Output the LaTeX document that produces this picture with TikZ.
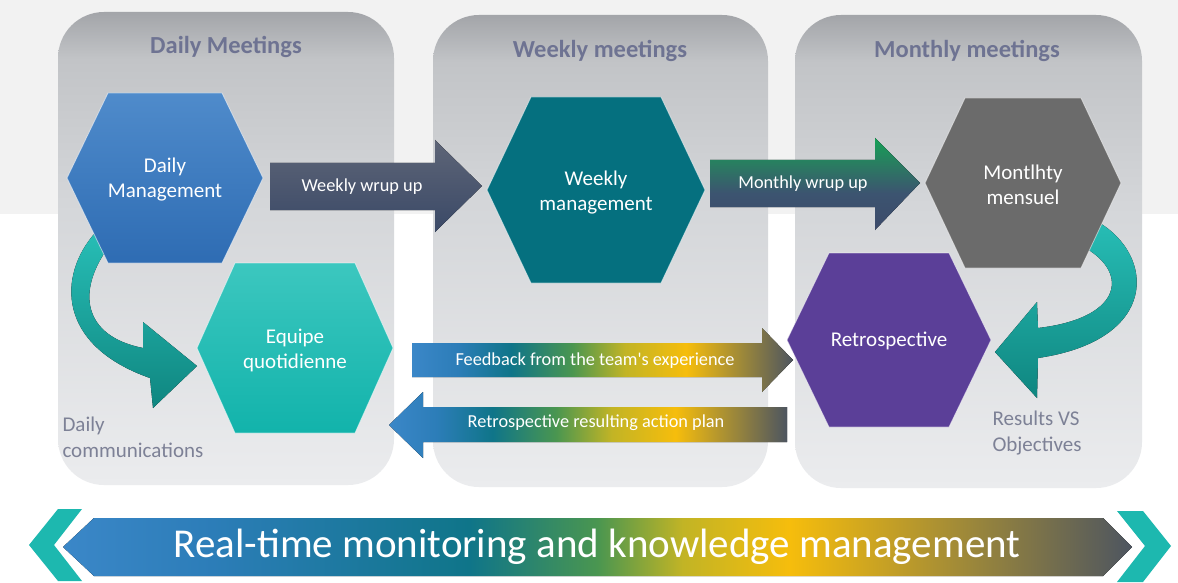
\documentclass[tikz,border=0pt]{standalone}
\usepackage{fontspec}
\newfontfamily\carlito{Carlito}
\setmainfont{Carlito}
\usetikzlibrary{calc}

% palette
\definecolor{bandgray}{HTML}{F2F2F2}
\definecolor{pnltop}{HTML}{A3A5A9}
\definecolor{pnlhi}{HTML}{C2C4C7}
\definecolor{pnlmid}{HTML}{D4D6D9}
\definecolor{pnlbot}{HTML}{EBECEE}
\definecolor{titlecol}{HTML}{6E7392}
\definecolor{labelcol}{HTML}{7D8196}
\definecolor{dmtop}{HTML}{4F8BCB}
\definecolor{dmbot}{HTML}{2E6CB3}
\definecolor{eqtop}{HTML}{3CC7BF}
\definecolor{eqbot}{HTML}{12B3AB}
\definecolor{wmfill}{HTML}{05707F}
\definecolor{mmfill}{HTML}{6B6B6B}
\definecolor{refill}{HTML}{5B3F98}
\definecolor{ribtop}{HTML}{27BDB5}
\definecolor{ribbot}{HTML}{0F8680}
\definecolor{wktop}{HTML}{5E6577}
\definecolor{wkbot}{HTML}{3A4967}
\definecolor{mtgreen}{HTML}{15A056}
\definecolor{mtmid}{HTML}{2B7A62}
\definecolor{mtslate}{HTML}{3C5470}
\definecolor{mtbot}{HTML}{3C4A6A}
\definecolor{gblue}{HTML}{3B87C8}
\definecolor{gblue2}{HTML}{2C7DB8}
\definecolor{gteal}{HTML}{0F7589}
\definecolor{ggreen}{HTML}{4A9650}
\definecolor{gyelgr}{HTML}{C2B425}
\definecolor{gyellow}{HTML}{F6BD0C}
\definecolor{golive}{HTML}{A08A38}
\definecolor{gdark}{HTML}{4D5560}
\definecolor{chevcol}{HTML}{1DB8AF}

% panel background, dark at the top edge and fading downwards
\pgfdeclareverticalshading{panelshade}{100bp}{color(0bp)=(pnlbot); color(25bp)=(pnlbot);
  color(55bp)=(pnlmid); color(70bp)=(pnlhi); color(75bp)=(pnltop); color(100bp)=(pnltop)}
% green-to-slate fill of the monthly arrow
\pgfdeclareverticalshading{monthshade}{100bp}{color(0bp)=(mtbot); color(25bp)=(mtbot);
  color(45bp)=(mtslate); color(60bp)=(mtmid); color(75bp)=(mtgreen); color(100bp)=(mtgreen)}
% blue - teal - yellow - dark band of the feedback arrows
\pgfdeclarehorizontalshading{feedshade}{100bp}{color(0bp)=(gblue); color(25bp)=(gblue);
  color(31bp)=(gblue2); color(38bp)=(gteal); color(46bp)=(ggreen); color(53bp)=(gyelgr);
  color(61bp)=(gyellow); color(68bp)=(golive); color(75bp)=(gdark); color(100bp)=(gdark)}
% same colours spread along the bottom banner
\pgfdeclarehorizontalshading{bannershade}{100bp}{color(0bp)=(gblue); color(25bp)=(gblue);
  color(32bp)=(gblue2); color(44bp)=(gteal); color(50bp)=(ggreen); color(54bp)=(gyelgr);
  color(59bp)=(gyellow); color(67bp)=(golive); color(75bp)=(gdark); color(100bp)=(gdark)}

% hexagon with pointed left/right ends: centre x, centre y, half width, half top edge, half height
\newcommand{\hexshape}[5]{(#1-#3,#2) -- (#1-#4,#2-#5) -- (#1+#4,#2-#5) -- (#1+#3,#2)
  -- (#1+#4,#2+#5) -- (#1-#4,#2+#5) -- cycle}

\tikzset{
  panelbox/.style={rectangle, rounded corners=46pt, shade, shading=panelshade, inner sep=0pt},
  titletext/.style={font=\carlito\bfseries\fontsize{24.5}{28}\selectfont, text=titlecol},
  hexedge/.style={draw=white, draw opacity=0.55, line width=0.8pt},
  hextext/.style={font=\carlito\fontsize{21}{25}\selectfont, text=white, align=center},
  arrowtext/.style={font=\carlito\fontsize{18.3}{22}\selectfont, text=white},
  sidelabel/.style={font=\carlito\fontsize{21}{26}\selectfont, text=labelcol, align=left, anchor=west},
  bannertext/.style={font=\carlito\fontsize{41}{48}\selectfont, text=white},
  ribbon/.style={shade, top color=ribtop, bottom color=ribbot},
}

\begin{document}
\begin{tikzpicture}[x=1pt,y=-1pt]
\useasboundingbox (0,0) rectangle (1178,583);
\fill[white] (0,0) rectangle (1178,583);
\fill[bandgray] (0,0) rectangle (1178,214);

% three meeting columns
\node[panelbox, minimum width=336pt, minimum height=473pt] (p1) at (226,248.5) {};
\node[panelbox, minimum width=335pt, minimum height=472pt] (p2) at (600.5,251) {};
\node[panelbox, minimum width=347pt, minimum height=473pt] (p3) at (968.5,251.5) {};
\node[titletext] (t1) at (226,47) {Daily Meetings};
\node[titletext] (t2) at (600,51) {Weekly meetings};
\node[titletext] (t3) at (967,51) {Monthly meetings};

% curved teal ribbons, tucked under the hexagons they leave
\fill[ribbon] (95,233) .. controls (58,275) and (56,345) .. (150,378) -- (153,408) -- (197,366)
  -- (143,322) -- (143,348) .. controls (82,336) and (76,290) .. (110,245) -- cycle;
\fill[ribbon] (1098,222) .. controls (1155,255) and (1160,340) .. (1038,358) -- (1037,398)
  -- (995,352) -- (1037,302) -- (1038,328) .. controls (1125,318) and (1130,270) .. (1080,245) -- cycle;

% hexagons
\path[hexedge, shade, top color=dmtop, bottom color=dmbot] \hexshape{165}{178}{98}{57}{85};
\path[hexedge, shade, top color=eqtop, bottom color=eqbot] \hexshape{295}{348}{98}{60}{85};
\path[hexedge, fill=wmfill] \hexshape{596}{190}{109}{65}{93};
\path[hexedge, fill=mmfill] \hexshape{1023}{183}{98}{58}{85};
\path[hexedge, fill=refill] \hexshape{889}{340}{102}{60}{87};
\node[hextext] (dm) at (165,180) {Daily\\Management};
\node[hextext] (eq) at (295,350) {Equipe\\quotidienne};
\node[hextext] (wm) at (596,193) {Weekly\\management};
\node[hextext] (mm) at (1023,185) {Montlhty\\mensuel};
\node[hextext] (re) at (889,341) {Retrospective};

% block arrows between the meetings
\fill[shade, top color=wktop, bottom color=wkbot] (270,163) -- (435,163) -- (435,140) -- (482,186)
  -- (435,232) -- (435,210) -- (270,210) -- cycle;
\node[arrowtext] (wk) at (362,187) {Weekly wrup up};
\fill[shade, shading=monthshade] (710,160) -- (875,160) -- (875,138) -- (920,183)
  -- (875,230) -- (875,207) -- (710,207) -- cycle;
\node[arrowtext] (mt) at (803,184) {Monthly wrup up};
\fill[shade, shading=feedshade] (412,343) -- (762,343) -- (762,328) -- (793,360)
  -- (762,392) -- (762,377) -- (412,377) -- cycle;
\node[arrowtext] (fb) at (595,361) {Feedback from the team's experience};
\fill[shade, shading=feedshade] (389,425) -- (423,392) -- (423,407) -- (787,407)
  -- (787,442) -- (423,442) -- (423,458) -- cycle;
\node[arrowtext] (ap) at (596,423) {Retrospective resulting action plan};

% side notes
\node[sidelabel] (dc) at (59,437) {Daily\\communications};
\node[sidelabel] (ro) at (989,433) {Results VS\\Objectives};

% bottom banner with its two chevrons
\fill[chevcol] (58,509) -- (82,509) -- (54,545) -- (82,581) -- (58,581) -- (29,545) -- cycle;
\fill[chevcol] (1117,511) -- (1143,511) -- (1171,546) -- (1143,582) -- (1117,582) -- (1145,546) -- cycle;
\fill[shade, shading=bannershade] (63,547) -- (94,518) -- (1103,518) -- (1132,547) -- (1103,576) -- (94,576) -- cycle;
\node[bannertext] (bt) at (597,547) {Real-time monitoring and knowledge management};
\end{tikzpicture}
\end{document}
